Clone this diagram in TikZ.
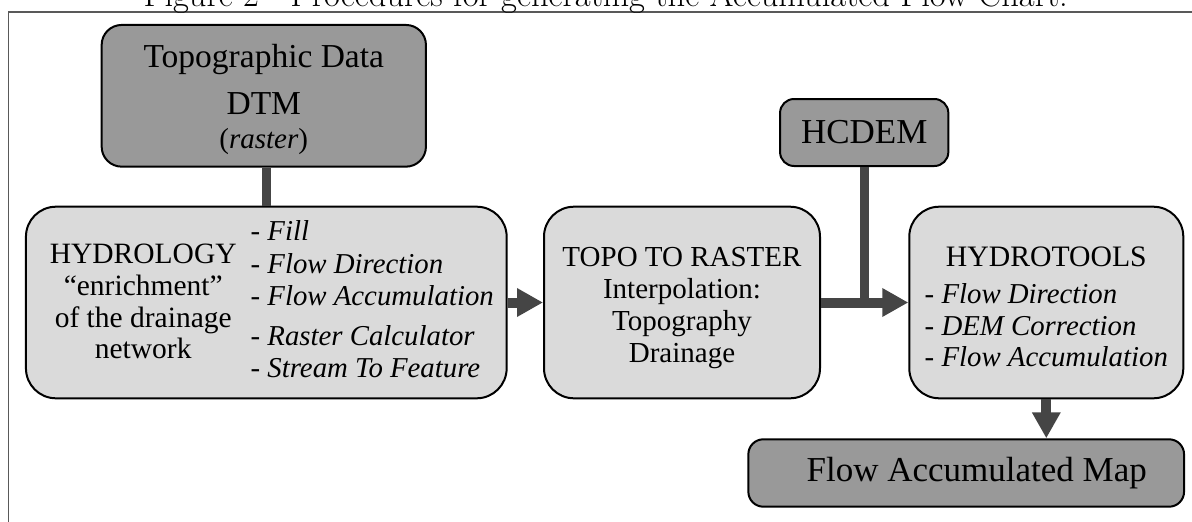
\documentclass[tikz,border=0pt]{standalone}
\usepackage{fontspec}
\newfontfamily\boxfont{Liberation Serif}
\usetikzlibrary{arrows.meta}
\definecolor{darkfill}{gray}{0.6}
\definecolor{lightfill}{gray}{0.855}
\definecolor{linkgray}{gray}{0.27}
\definecolor{framegray}{gray}{0.35}
\tikzset{
  darkbox/.style={draw=black, line width=2pt, fill=darkfill, align=center, inner sep=0pt, font=\boxfont},
  lightbox/.style={draw=black, line width=2pt, fill=lightfill, rounded corners=30pt, align=center, inner sep=0pt, minimum height=191.6pt, font=\boxfont},
  joinbar/.style={draw=linkgray, line width=9pt},
  flowarrow/.style={draw=linkgray, line width=10pt, -{Triangle[length=26pt,width=27pt]}},
}

\begin{document}
\begin{tikzpicture}[x=1pt,y=1pt]
			%%%%% FRAME %%%%%
			\useasboundingbox (0,0) rectangle (1192,-522);
			\draw[framegray, line width=1.5pt] (8.3,-522) -- (8.3,-12) -- (1192,-12);
			\node[anchor=base, inner sep=0pt, font=\fontsize{34.5}{40}\selectfont] (caption) at (605.8,-6) {Figure 2 - Procedures for generating the Accumulated Flow Chart.};
			
			%%%%% BOXES %%%%%
			\node[darkbox, rounded corners=20pt, minimum width=324.3pt, minimum height=141.7pt] (topo) at (263.8,-95.8) {%
			  \fontsize{33.5}{40}\selectfont
			  \begin{tabular}{@{}c@{}}
			  \rule{0pt}{37pt}Topographic Data\\[6.7pt]
			  DTM\\[-6pt]
			  {\fontsize{29}{34}\selectfont(\textit{raster})}
			  \end{tabular}};
			
			\node[lightbox, minimum width=480.7pt] (hydro) at (266.3,-302.5) {%
			  \begin{tabular}{@{\hspace{11pt}}c@{\hspace{14pt}}l@{}}
			  \raisebox{-2.6pt}{\fontsize{29.5}{31.7}\selectfont\begin{tabular}{@{}c@{}}HYDROLOGY\\“enrichment”\\of the drainage\\network\end{tabular}} &
			  {\fontsize{28.8}{31.7}\selectfont\begin{tabular}{@{}l@{}}- \textit{Fill}\\[1.7pt]- \textit{Flow Direction}\\- \textit{Flow Accumulation}\\[8.3pt]- \textit{Raster Calculator}\\- \textit{Stream To Feature}\end{tabular}}
			  \end{tabular}};
			
			\node[lightbox, minimum width=276pt] (raster) at (682,-302.5) {%
			  \fontsize{29}{32}\selectfont
			  \begin{tabular}{@{}c@{}}
			  \rule{0pt}{33pt}TOPO TO RASTER\\
			  Interpolation:\\
			  Topography\\
			  Drainage
			  \end{tabular}};
			
			\node[darkbox, rounded corners=14pt, minimum width=168.3pt, minimum height=67pt, font=\boxfont\fontsize{35}{40}\selectfont] (hcdem) at (864.2,-132.5) {HCDEM};
			
			\node[lightbox, minimum width=274pt] (tools) at (1046.3,-302.5) {%
			  \fontsize{28.8}{31.7}\selectfont
			  \begin{tabular}{@{}l@{}}
			  \multicolumn{1}{@{}c@{}}{\rule{0pt}{38pt}\fontsize{29.7}{32}\selectfont HYDROTOOLS}\\[5pt]
			  - \textit{Flow Direction}\\
			  - \textit{DEM Correction}\\
			  - \textit{Flow Accumulation}
			  \end{tabular}};
			
			\node[darkbox, rounded corners=15pt, minimum width=435.7pt, minimum height=67.4pt, font=\boxfont\fontsize{35}{40}\selectfont] (map) at (966.2,-473) {\hspace{21pt}Flow Accumulated Map};
			
			%%%%% LINKS %%%%%
			\draw[joinbar] (hydro.north) -- (hydro.north |- topo.south);
			\draw[flowarrow] (hydro) -- (raster);
			\draw[joinbar] (hcdem.south) -- (hcdem.south |- raster.east);
			\draw[flowarrow] (raster) -- (tools);
			\draw[flowarrow] (tools.south) -- (tools.south |- map.north);
\end{tikzpicture}
\end{document}
